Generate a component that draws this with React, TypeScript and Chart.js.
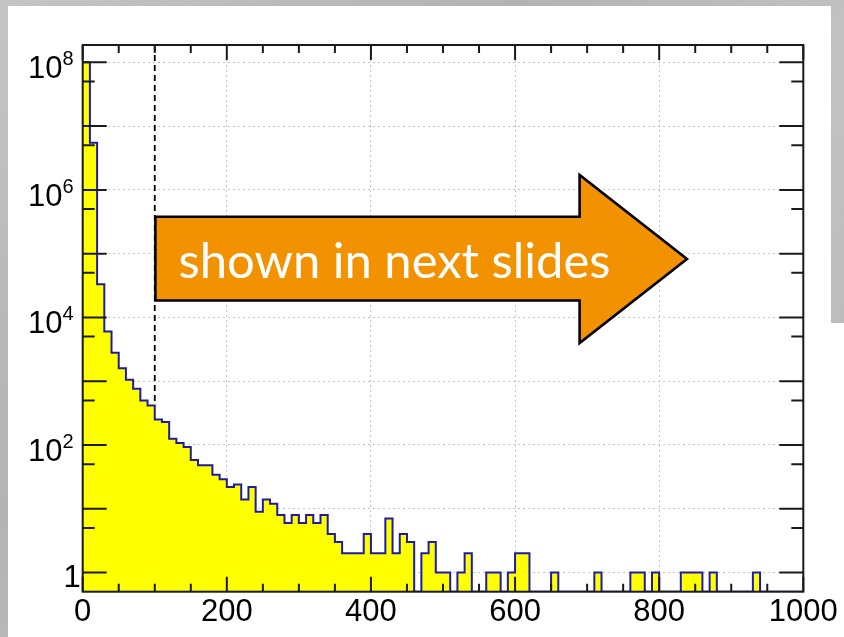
import React, { useEffect, useRef } from 'react';
import { Chart, registerables } from 'chart.js';

Chart.register(...registerables);

// ---- data -------------------------------------------------------------
const BIN_WIDTH = 10;
const X_MIN = 0;
const X_MAX = 1000;

// entries per 10-unit bin (0..1000)
const COUNTS: number[] = [
  1.0e8, 5.5e6, 3.3e4, 6.0e3, 2.8e3, 1.6e3, 1.05e3, 760, 500, 415,
  250, 230, 125, 107, 93, 58, 48, 48, 34, 29,
  22, 24, 14, 22, 9, 14, 12, 8, 6, 8,
  6, 8, 6, 8, 4, 3, 2, 2, 2, 4,
  2, 2, 7, 2, 4, 3, 0, 2, 3, 1,
  1, 0, 1, 2, 0, 0, 1, 1, 0, 1,
  2, 2, 0, 0, 0, 1, 0, 0, 0, 0,
  0, 1, 0, 0, 0, 0, 1, 1, 0, 1,
  0, 0, 0, 1, 1, 1, 0, 1, 0, 0,
  0, 0, 0, 1, 0, 0, 0, 0, 0, 0,
];

const X_MAJOR_STEP = 200;
const X_MINOR_STEP = 50;
const Y_MIN = 0.5;
const Y_MAX = 1.87e8;
const Y_DECADES = [1, 1e1, 1e2, 1e3, 1e4, 1e5, 1e6, 1e7, 1e8];
const Y_LABEL_EXPONENTS = [0, 2, 4, 6, 8];
const CUT_X = 100;
const ARROW_TEXT = 'shown in next slides';

// ---- derived tables for the library -----------------------------------
const histPoints = COUNTS.map((c, i) => ({ x: X_MIN + i * BIN_WIDTH, y: c > 0 ? c : Y_MIN }));
histPoints.push({ x: X_MAX, y: histPoints[histPoints.length - 1].y });
const cutPoints = [
  { x: CUT_X, y: Y_MAX },
  { x: CUT_X, y: COUNTS[CUT_X / BIN_WIDTH - 1] },
];

const FONT = '"Liberation Sans", Arial, Helvetica, sans-serif';

const frameAndTicks = {
  id: 'rootFrame',
  afterDatasetsDraw(chart: any) {
    const { ctx, chartArea: a, scales } = chart;
    const x = scales.x;
    const y = scales.y;
    ctx.save();
    ctx.strokeStyle = '#1a1a1a';
    ctx.lineWidth = 2;
    ctx.lineCap = 'butt';
    ctx.beginPath();
    for (let v = X_MIN; v <= X_MAX; v += X_MINOR_STEP) {
      const px = x.getPixelForValue(v);
      const len = v % X_MAJOR_STEP === 0 ? 15 : 8;
      ctx.moveTo(px, a.bottom);
      ctx.lineTo(px, a.bottom - len);
      ctx.moveTo(px, a.top);
      ctx.lineTo(px, a.top + len);
    }
    for (const d of Y_DECADES) {
      const marks: [number, number][] = [[1, 24], [5, 12]];
      for (const [m, len] of marks) {
        const v = d * m;
        if (v <= Y_MIN || v >= Y_MAX) continue;
        const py = y.getPixelForValue(v);
        ctx.moveTo(a.left, py);
        ctx.lineTo(a.left + len, py);
        ctx.moveTo(a.right, py);
        ctx.lineTo(a.right - len, py);
      }
    }
    ctx.stroke();
    ctx.strokeRect(a.left, a.top, a.right - a.left, a.bottom - a.top);

    // y labels with superscript exponents
    ctx.fillStyle = '#000';
    ctx.textBaseline = 'alphabetic';
    for (const e of Y_LABEL_EXPONENTS) {
      const py = y.getPixelForValue(Math.pow(10, e));
      if (e === 0) {
        ctx.font = `31px ${FONT}`;
        ctx.textAlign = 'right';
        ctx.fillText('1', a.left - 2, py + 14);
      } else {
        ctx.textAlign = 'left';
        ctx.font = `31px ${FONT}`;
        const wb = ctx.measureText('10').width;
        ctx.font = `20px ${FONT}`;
        const ws = ctx.measureText(String(e)).width;
        const start = a.left - 9 - wb - ws;
        ctx.font = `31px ${FONT}`;
        ctx.fillText('10', start, py + 16);
        ctx.font = `20px ${FONT}`;
        ctx.fillText(String(e), start + wb, py + 3);
      }
    }
    ctx.restore();
  },
};

const arrowPlugin = {
  id: 'arrowNote',
  afterDraw(chart: any) {
    const { ctx } = chart;
    const L = 155.4, R = 579.6, T = 216.7, B = 300.5, HT = 175, HB = 343, TX = 687, TY = 259;
    ctx.save();
    ctx.beginPath();
    ctx.moveTo(L, T);
    ctx.lineTo(R, T);
    ctx.lineTo(R, HT);
    ctx.lineTo(TX, TY);
    ctx.lineTo(R, HB);
    ctx.lineTo(R, B);
    ctx.lineTo(L, B);
    ctx.closePath();
    ctx.fillStyle = '#f39200';
    ctx.fill();
    ctx.lineWidth = 2.6;
    ctx.lineJoin = 'miter';
    ctx.strokeStyle = '#000';
    ctx.stroke();

    const targetW = 432;
    ctx.font = `48px Lato, "Open Sans", sans-serif`;
    const w = ctx.measureText(ARROW_TEXT).width;
    const size = (48 * targetW) / w;
    ctx.font = `${size.toFixed(2)}px Lato, "Open Sans", sans-serif`;
    ctx.fillStyle = '#ffffff';
    ctx.textAlign = 'left';
    ctx.textBaseline = 'alphabetic';
    ctx.fillText(ARROW_TEXT, 178.6, 277.5);
    ctx.restore();
  },
};

export default function App() {
  const ref = useRef<HTMLCanvasElement | null>(null);

  useEffect(() => {
    if (!ref.current) return;
    const chart = new Chart(ref.current, {
      type: 'line',
      data: {
        datasets: [
          {
            label: 'hist',
            data: histPoints,
            stepped: true,
            fill: 'start',
            backgroundColor: '#ffff00',
            borderColor: '#1c1ca8',
            borderWidth: 2,
            borderJoinStyle: 'miter',
            pointRadius: 0,
            tension: 0,
          },
          {
            label: 'cut',
            data: cutPoints,
            borderColor: '#000000',
            borderWidth: 1.8,
            borderDash: [6, 4],
            pointRadius: 0,
            fill: false,
          },
        ],
      } as any,
      options: {
        animation: false,
        responsive: false,
        devicePixelRatio: 1,
        layout: { padding: { left: 0, top: 45, right: 40.7, bottom: 0 } },
        plugins: { legend: { display: false }, tooltip: { enabled: false } },
        scales: {
          x: {
            type: 'linear',
            min: X_MIN,
            max: X_MAX,
            ticks: {
              stepSize: X_MAJOR_STEP,
              autoSkip: false,
              maxRotation: 0,
              padding: 2.5,
              color: '#000',
              font: { size: 31, family: FONT, lineHeight: 1.2 },
              callback: (v: any) => String(v),
            },
            grid: { color: '#c4c4c4', lineWidth: 1, drawTicks: false },
            border: { display: false, dash: [2, 3] },
            afterFit: (s: any) => {
              s.height = 45.3;
            },
          },
          y: {
            type: 'logarithmic',
            min: Y_MIN,
            max: Y_MAX,
            afterBuildTicks: (s: any) => {
              s.ticks = Y_DECADES.map((v) => ({ value: v }));
            },
            ticks: { display: false },
            grid: { color: '#c4c4c4', lineWidth: 1, drawTicks: false },
            border: { display: false, dash: [2, 3] },
            afterFit: (s: any) => {
              s.width = 82.7;
            },
          },
        },
      } as any,
      plugins: [frameAndTicks, arrowPlugin],
    });
    return () => chart.destroy();
  }, []);

  return (
    <div
      style={{
        position: 'fixed',
        left: 0,
        top: 0,
        width: 844,
        height: 637,
        overflow: 'hidden',
        background: 'linear-gradient(135deg, #c4c4c4 0%, #b3b3b3 35%, #c2c2c2 60%, #b6b6b6 100%)',
      }}
    >
      <div style={{ position: 'absolute', left: 8, top: 6, width: 823, height: 631, background: '#fff' }} />
      <div style={{ position: 'absolute', left: 831, top: 323, width: 13, height: 314, background: '#fff' }} />
      <canvas
        ref={ref}
        width={844}
        height={637}
        style={{ position: 'absolute', left: 0, top: 0, width: 844, height: 637 }}
      />
    </div>
  );
}
